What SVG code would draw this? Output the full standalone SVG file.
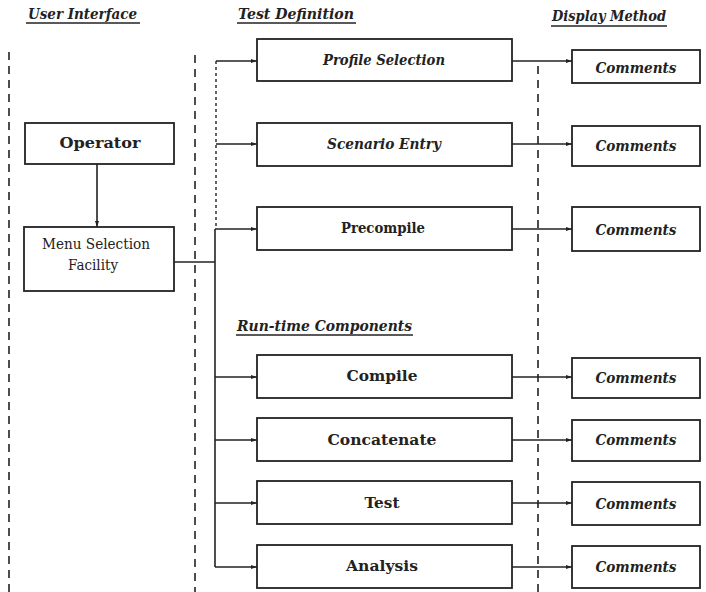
<svg xmlns="http://www.w3.org/2000/svg" width="706" height="592" viewBox="0 0 706 592">
<style>
.box{fill:#fff;stroke:#222;stroke-width:1.8}
.t{font-family:"DejaVu Serif","Liberation Serif",serif;font-weight:bold;font-size:15px;fill:#222;text-anchor:middle}
.i{font-style:italic}
.h{font-family:"DejaVu Serif","Liberation Serif",serif;font-weight:bold;font-style:italic;font-size:15px;fill:#222}
.ul{stroke:#222;stroke-width:1.6}
.dash{stroke:#222;stroke-width:1.6;stroke-dasharray:8,6;fill:none}
.dot{stroke:#222;stroke-width:1.4;stroke-dasharray:3,3;fill:none}
.c{stroke:#222;stroke-width:1.6;fill:none}
.a{stroke:#222;stroke-width:1.6;fill:none;marker-end:url(#ah)}
</style>
<defs>
<marker id="ah" viewBox="0 0 6 6" refX="6" refY="3" markerWidth="4" markerHeight="4" orient="auto" markerUnits="strokeWidth">
<path d="M0,1 L6,3 L0,5 z" fill="#222"/>
</marker>
</defs>
<rect width="706" height="592" fill="#fff"/>
<g id="headers">
<text class="h" x="28" y="19" textLength="109" lengthAdjust="spacingAndGlyphs">User Interface</text>
<line class="ul" x1="26" y1="23" x2="140" y2="23"/>
<text class="h" x="238" y="19" textLength="116" lengthAdjust="spacingAndGlyphs">Test Definition</text>
<line class="ul" x1="237" y1="23" x2="356" y2="23"/>
<text class="h" x="552" y="21" textLength="114" lengthAdjust="spacingAndGlyphs">Display Method</text>
<line class="ul" x1="551" y1="26" x2="667" y2="26"/>
<text class="h" x="237" y="331" textLength="175" lengthAdjust="spacingAndGlyphs">Run-time Components</text>
<line class="ul" x1="236" y1="335" x2="413" y2="335"/>
</g>
<g id="separators">
<line class="dash" x1="9" y1="52" x2="9" y2="592"/>
<line class="dash" x1="195" y1="55" x2="195" y2="592"/>
<line class="dash" x1="538" y1="66" x2="538" y2="592"/>
</g>
<g id="connectors">
<line class="a" x1="97" y1="164" x2="97" y2="227"/>
<polyline class="c" points="174,262 215,262"/>
<line class="dot" x1="216" y1="61" x2="216" y2="229"/>
<line class="c" x1="215" y1="229" x2="215" y2="567"/>
<line class="a" x1="216" y1="61" x2="257" y2="61"/>
<line class="a" x1="216" y1="144" x2="257" y2="144"/>
<line class="a" x1="215" y1="229" x2="257" y2="229"/>
<line class="a" x1="215" y1="377" x2="257" y2="377"/>
<line class="a" x1="215" y1="440" x2="257" y2="440"/>
<line class="a" x1="215" y1="503" x2="257" y2="503"/>
<line class="a" x1="215" y1="567" x2="257" y2="567"/>
<line class="a" x1="512" y1="61" x2="572" y2="61"/>
<line class="a" x1="512" y1="144" x2="572" y2="144"/>
<line class="a" x1="512" y1="229" x2="572" y2="229"/>
<line class="a" x1="512" y1="377" x2="572" y2="377"/>
<line class="a" x1="512" y1="440" x2="572" y2="440"/>
<line class="a" x1="512" y1="503" x2="572" y2="503"/>
<line class="a" x1="512" y1="567" x2="572" y2="567"/>
</g>
<g id="operator"><rect class="box" x="25" y="123" width="149" height="41"/><text class="t" x="100" y="148" textLength="81" lengthAdjust="spacingAndGlyphs">Operator</text></g>
<g id="menu"><rect class="box" x="24" y="227" width="150" height="64"/><text class="t" x="96" y="249" style="font-weight:normal;font-size:14px" textLength="108" lengthAdjust="spacingAndGlyphs">Menu Selection</text><text class="t" x="93" y="270" style="font-weight:normal;font-size:14px" textLength="50" lengthAdjust="spacingAndGlyphs">Facility</text></g>
<g id="profile"><rect class="box" x="257" y="39" width="255" height="42"/><text class="t i" x="384" y="65" textLength="122" lengthAdjust="spacingAndGlyphs">Profile Selection</text></g>
<g id="scenario"><rect class="box" x="257" y="123" width="255" height="43"/><text class="t i" x="384" y="149" textLength="114" lengthAdjust="spacingAndGlyphs">Scenario Entry</text></g>
<g id="precompile"><rect class="box" x="257" y="207" width="255" height="43"/><text class="t" x="383" y="233" textLength="84" lengthAdjust="spacingAndGlyphs">Precompile</text></g>
<g id="compile"><rect class="box" x="257" y="355" width="255" height="43"/><text class="t" x="382" y="381" textLength="71" lengthAdjust="spacingAndGlyphs">Compile</text></g>
<g id="concatenate"><rect class="box" x="257" y="418" width="255" height="43"/><text class="t" x="382" y="445" textLength="109" lengthAdjust="spacingAndGlyphs">Concatenate</text></g>
<g id="test"><rect class="box" x="257" y="481" width="255" height="43"/><text class="t" x="382" y="508" textLength="35" lengthAdjust="spacingAndGlyphs">Test</text></g>
<g id="analysis"><rect class="box" x="257" y="545" width="255" height="43"/><text class="t" x="382" y="571" textLength="72" lengthAdjust="spacingAndGlyphs">Analysis</text></g>
<g id="comments1"><rect class="box" x="572" y="50" width="128" height="33"/><text class="t i" x="636" y="73" textLength="81" lengthAdjust="spacingAndGlyphs">Comments</text></g>
<g id="comments2"><rect class="box" x="572" y="126" width="128" height="40"/><text class="t i" x="636" y="151" textLength="81" lengthAdjust="spacingAndGlyphs">Comments</text></g>
<g id="comments3"><rect class="box" x="572" y="207" width="128" height="44"/><text class="t i" x="636" y="235" textLength="81" lengthAdjust="spacingAndGlyphs">Comments</text></g>
<g id="comments4"><rect class="box" x="572" y="358" width="128" height="40"/><text class="t i" x="636" y="383" textLength="81" lengthAdjust="spacingAndGlyphs">Comments</text></g>
<g id="comments5"><rect class="box" x="572" y="420" width="128" height="41"/><text class="t i" x="636" y="445" textLength="81" lengthAdjust="spacingAndGlyphs">Comments</text></g>
<g id="comments6"><rect class="box" x="572" y="482" width="128" height="43"/><text class="t i" x="636" y="509" textLength="81" lengthAdjust="spacingAndGlyphs">Comments</text></g>
<g id="comments7"><rect class="box" x="572" y="546" width="128" height="42"/><text class="t i" x="636" y="572" textLength="81" lengthAdjust="spacingAndGlyphs">Comments</text></g>
</svg>
